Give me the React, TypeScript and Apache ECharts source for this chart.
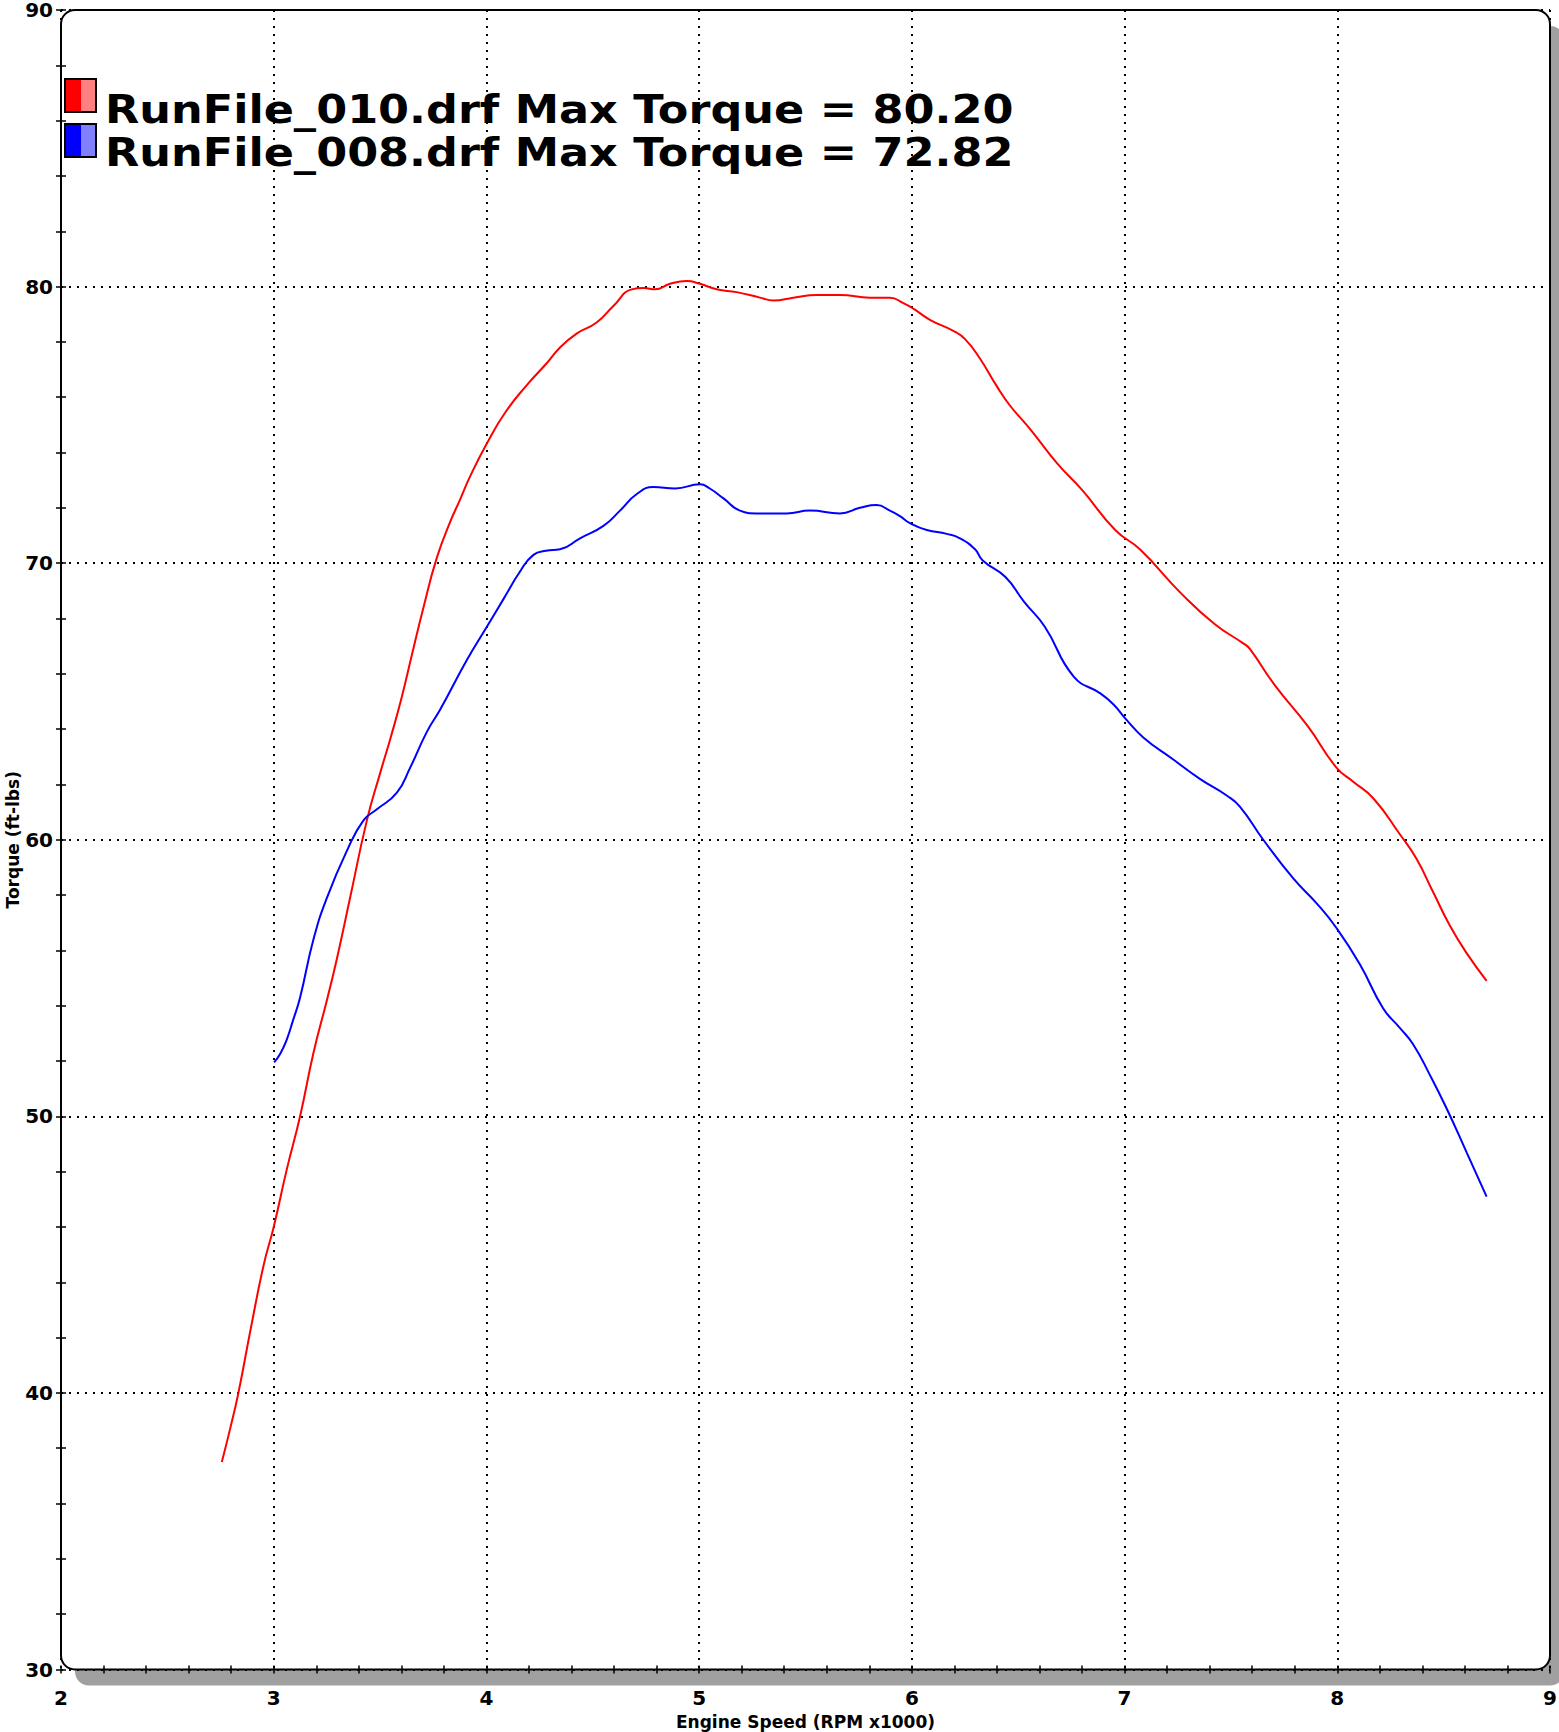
import React, { useEffect, useRef } from "react";
import * as echarts from "echarts";

// Engine speed (RPM x1000) and torque (ft-lbs)
const rpm010 = [
  2.756, 2.795, 2.834, 2.889, 2.952, 3.0, 3.062, 3.124, 3.187, 3.25, 3.297, 3.359, 3.438, 3.5, 3.55,
  3.6, 3.65, 3.704, 3.767, 3.83, 3.876, 3.921, 4.0, 4.093, 4.197, 4.28, 4.346, 4.424, 4.518, 4.597,
  4.683, 4.74, 4.793, 4.863, 4.941, 5.004, 5.082, 5.177, 5.286, 5.349, 5.443, 5.553, 5.662, 5.803,
  5.897, 5.96, 6.007, 6.085, 6.195, 6.25, 6.32, 6.399, 6.461, 6.528, 6.571, 6.684, 6.8, 6.956, 7.072,
  7.267, 7.423, 7.558, 7.589, 7.705, 7.862, 7.997, 8.075, 8.169, 8.294, 8.373, 8.451, 8.529, 8.608,
  8.702,
];
const torque010 = [
  37.5, 38.7, 40.0, 42.2, 44.6, 46.0, 48.1, 50.0, 52.3, 54.2, 55.7, 57.9, 60.7, 62.4, 63.7,
  65.1, 66.7, 68.4, 70.2, 71.5, 72.3, 73.1, 74.3, 75.5, 76.5, 77.2, 77.8, 78.3, 78.7, 79.3,
  79.9, 79.95, 79.9, 80.1, 80.2, 80.1, 79.9, 79.8, 79.6, 79.5, 79.6, 79.7, 79.7, 79.6,
  79.6, 79.4, 79.2, 78.8, 78.4, 78.1, 77.4, 76.4, 75.7, 75.1, 74.7, 73.6, 72.65, 71.2, 70.5,
  68.9, 67.8, 67.1, 66.9, 65.6, 64.1, 62.6, 62.1, 61.5, 60.2, 59.3, 58.1, 56.9, 55.9,
  54.9,
];
const rpm008 = [
  3.002, 3.03, 3.06, 3.09, 3.124, 3.187, 3.25, 3.344, 3.422, 3.485, 3.579, 3.641, 3.72, 3.782, 3.908,
  4.002, 4.08, 4.158, 4.221, 4.28, 4.346, 4.44, 4.55, 4.628, 4.707, 4.785, 4.887, 5.004, 5.05, 5.113,
  5.192, 5.27, 5.411, 5.521, 5.662, 5.756, 5.834, 5.897, 5.944, 5.991, 6.07, 6.164, 6.226, 6.297,
  6.333, 6.44, 6.528, 6.625, 6.761, 6.884, 6.947, 7.002, 7.088, 7.229, 7.354, 7.48, 7.542, 7.652,
  7.793, 7.903, 7.997, 8.106, 8.216, 8.294, 8.357, 8.435, 8.513, 8.608, 8.702,
];
const torque008 = [
  51.95, 52.25, 52.75, 53.45, 54.3, 56.4, 57.9, 59.6, 60.7, 61.1, 61.7, 62.6, 63.9, 64.7, 66.5,
  67.7, 68.7, 69.7, 70.3, 70.45, 70.5, 70.9, 71.35, 71.9, 72.5, 72.75, 72.7, 72.85, 72.7, 72.35,
  71.9, 71.8, 71.8, 71.9, 71.8, 72.0, 72.1, 71.9, 71.7, 71.45, 71.2, 71.06, 70.9, 70.5,
  70.1, 69.5, 68.6, 67.7, 65.9, 65.3, 64.9, 64.4, 63.7, 62.9, 62.2, 61.6, 61.2, 60.0,
  58.6, 57.7, 56.8, 55.5, 53.9, 53.2, 52.6, 51.5, 50.3, 48.7, 47.1,
];

const seriesNames = ["RunFile_010.drf", "RunFile_008.drf"];
const legendLabels = [
  "RunFile_010.drf Max Torque = 80.20",
  "RunFile_008.drf Max Torque = 72.82",
];
const seriesColors = ["#ff0000", "#0000ff"];
const swatchLight = ["#ff8080", "#8080ff"];
const xTitle = "Engine Speed (RPM x1000)";
const yTitle = "Torque (ft-lbs)";
const xMin = 2, xMax = 9, xStep = 1;
const yMin = 30, yMax = 90, yStep = 10;

const FONT = "DejaVu Sans";

const zip = (xs: number[], ys: number[]) => xs.map((x, i) => [x, ys[i]]);

export default function App() {
  const ref = useRef<HTMLDivElement>(null);

  useEffect(() => {
    document.body.style.margin = "0";
    const chart = echarts.init(ref.current!, null, { renderer: "svg" });

    const G = { left: 61, top: 10, right: 9, bottom: 62.5 };
    const W = 1559, H = 1732;
    const gw = W - G.left - G.right;
    const gh = H - G.top - G.bottom;

    const tickStyle = { color: "#000", width: 1.5 };
    const labelStyle = { fontFamily: FONT, fontWeight: "bold" as const, fontSize: 20, lineHeight: 16, color: "#000" };
    const nameStyle = { fontFamily: FONT, fontWeight: "bold" as const, fontSize: 17, color: "#000" };
    const dotted = { color: "#000", width: 2, type: [2, 6] as number[] };

    const xBase = { type: "value" as const, min: xMin, max: xMax, interval: xStep, gridIndex: 0, position: "bottom" as const };
    const yBase = { type: "value" as const, min: yMin, max: yMax, interval: yStep, gridIndex: 0, position: "left" as const };

    const legendGraphics: any[] = [];
    const swY = [79, 124];
    const txtY = [109.5, 152.9];
    [0, 1].forEach((i) => {
      legendGraphics.push(
        { type: "rect", z: 10, silent: true, shape: { x: 65, y: swY[i], width: 16, height: 33 }, style: { fill: seriesColors[i] } },
        { type: "rect", z: 10, silent: true, shape: { x: 81, y: swY[i], width: 15, height: 33 }, style: { fill: swatchLight[i] } },
        { type: "rect", z: 11, silent: true, shape: { x: 65, y: swY[i], width: 31, height: 33 }, style: { fill: "none", stroke: "#000", lineWidth: 2 } },
        {
          type: "text", z: 11, silent: true, x: 105, y: txtY[i], scaleX: 1.157,
          style: { text: legendLabels[i], fontFamily: FONT, fontWeight: "bold", fontSize: 38.5, fill: "#000", align: "left", verticalAlign: "middle" },
        }
      );
    });

    chart.setOption({
      animation: false,
      backgroundColor: "#fff",
      grid: { left: G.left, top: G.top, right: G.right, bottom: G.bottom, containLabel: false, outerBoundsMode: "none" },
      graphic: [
        { type: "rect", z: -20, silent: true, shape: { x: G.left + 14, y: G.top + 16, width: gw, height: gh, r: 14 }, style: { fill: "#a0a0a0" } },
        { type: "rect", z: -10, silent: true, shape: { x: G.left, y: G.top, width: gw, height: gh, r: 14 }, style: { fill: "#fff", stroke: "#000", lineWidth: 2 } },
        ...legendGraphics,
      ],
      xAxis: [
        {
          ...xBase,
          name: xTitle,
          nameLocation: "middle",
          nameGap: 44,
          nameMoveOverlap: false,
          nameTextStyle: nameStyle,
          axisLine: { show: false },
          axisTick: { show: true, length: 4, lineStyle: tickStyle },
          minorTick: { show: true, splitNumber: 5, length: 4, lineStyle: tickStyle },
          axisLabel: { ...labelStyle, margin: 20 },
          splitLine: { show: true, lineStyle: dotted },
          minorSplitLine: { show: false },
        },
        {
          ...xBase,
          axisLine: { show: false },
          axisTick: { show: true, inside: true, length: 4, lineStyle: tickStyle },
          minorTick: { show: true, splitNumber: 5, length: 4, lineStyle: tickStyle },
          axisLabel: { show: false },
          splitLine: { show: false },
        },
      ],
      yAxis: [
        {
          ...yBase,
          name: yTitle,
          nameLocation: "middle",
          nameRotate: 90,
          nameGap: 40,
          nameMoveOverlap: false,
          nameTextStyle: nameStyle,
          axisLine: { show: false },
          axisTick: { show: true, length: 5, lineStyle: tickStyle },
          minorTick: { show: true, splitNumber: 5, length: 5, lineStyle: tickStyle },
          axisLabel: { ...labelStyle, margin: 8 },
          splitLine: { show: true, lineStyle: dotted },
          minorSplitLine: { show: false },
        },
        {
          ...yBase,
          axisLine: { show: false },
          axisTick: { show: true, inside: true, length: 5, lineStyle: tickStyle },
          minorTick: { show: true, splitNumber: 5, length: 5, lineStyle: tickStyle },
          axisLabel: { show: false },
          splitLine: { show: false },
        },
      ],
      series: [
        {
          name: seriesNames[0],
          type: "line",
          xAxisIndex: 0,
          yAxisIndex: 0,
          data: zip(rpm010, torque010),
          showSymbol: false,
          smooth: 0.5,
          lineStyle: { color: seriesColors[0], width: 2 },
          itemStyle: { color: seriesColors[0] },
        },
        {
          name: seriesNames[1],
          type: "line",
          xAxisIndex: 0,
          yAxisIndex: 0,
          data: zip(rpm008, torque008),
          showSymbol: false,
          smooth: 0.5,
          lineStyle: { color: seriesColors[1], width: 2 },
          itemStyle: { color: seriesColors[1] },
        },
      ],
    });

    return () => chart.dispose();
  }, []);

  return <div ref={ref} style={{ width: 1559, height: 1732 }} />;
}
